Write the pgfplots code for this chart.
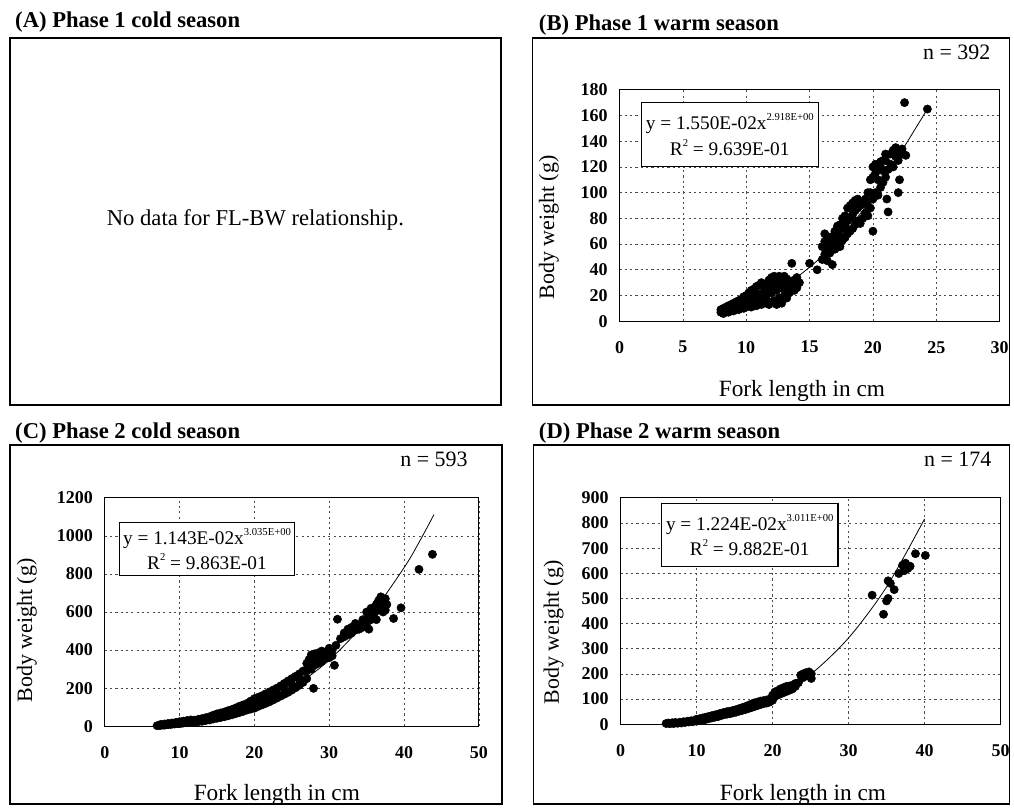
\documentclass[border=0pt]{standalone}
\usepackage{fontspec}
\setmainfont{Liberation Serif}
\usepackage{pgfplots}
\pgfplotsset{compat=1.18}

% common look of the three FL-BW panels
\pgfplotsset{
  fish/.style={
    scale only axis, anchor=south west,
    grid=major,
    major grid style={black!70, line width=0.5pt, dash pattern=on 1.6pt off 2.4pt},
    major tick length=0pt,
    axis line style={line width=0.8pt},
    tick label style={font=\fontsize{13.5}{14}\selectfont\bfseries},
    /pgf/number format/assume math mode=true,
    /pgf/number format/1000 sep={},
    scaled ticks=false,
    xticklabel style={anchor=center, yshift=-19.5pt},
    yticklabel style={anchor=east, xshift=-5.5pt},
    xlabel style={font=\fontsize{17.5}{18}\selectfont},
    ylabel style={font=\fontsize{16.5}{18}\selectfont},
    xlabel={Fork length in cm},
    ylabel={Body weight (g)},
    clip=false,
  },
  dots/.style={only marks, mark=*, mark size=3.1pt, black},
  fit/.style={black, line width=0.6pt, smooth, no markers},
}

\newcommand{\expo}[1]{\raisebox{1.0ex}{\fontsize{8}{8}\selectfont #1}}

\begin{document}
\begin{tikzpicture}
\begin{scope}[x=0.75pt, y=0.75pt]
\path[use as bounding box] (0,0) rectangle (1014,807);

% panel frames
\draw[line width=1.1pt] (10,769) rectangle (502,401);
\draw[line width=1.1pt] (534,769) rectangle (1012,401);
\draw[line width=1.1pt] (10,361) rectangle (503,1);
\draw[line width=1.1pt] (535,361) rectangle (1012,1);

% panel titles
\begin{scope}[every node/.style={anchor=west, inner sep=0pt, font=\fontsize{17}{18}\selectfont\bfseries}]
\node at (15,785) {(A) Phase 1 cold season};
\node at (540,782) {(B) Phase 1 warm season};
\node at (15,373) {(C) Phase 2 cold season};
\node at (540,373) {(D) Phase 2 warm season};
\end{scope}

% (A) no relationship available
\node[font=\fontsize{17}{18}\selectfont] at (256,587) {No data for FL-BW relationship.};
\end{scope}

% (B) Phase 1 warm season
\begin{axis}[fish, at={(465.75pt,363.75pt)}, width=285.75pt, height=174pt,
  xmin=0, xmax=30, xtick={0,5,...,30},
  ymin=0, ymax=180, ytick={0,20,...,180},
  xlabel style={at={(axis description cs:0.48,-0.30)}, anchor=center},
  ylabel style={at={(axis description cs:-0.186,0.405)}, anchor=center}]
\addplot[fit] coordinates {(8,6.69) (10,12.83) (12,21.85) (14,34.26) (16,50.58) (18,71.32) (20,96.99) (22,128.1) (24.3,165)};
\addplot[dots] coordinates {
(8.0,7) (8.0,9) (8.2,6) (8.2,10) (8.4,8) (8.4,11) (8.6,7) (8.6,12) (8.8,9) (8.8,13)
(9.0,8) (9.0,11) (9.0,14) (9.2,10) (9.2,15) (9.4,9) (9.4,12) (9.4,16) (9.6,11) (9.6,14)
(9.6,17) (9.8,10) (9.8,15) (9.8,19) (10.0,11) (10.0,16) (10.0,20) (10.2,12) (10.2,18) (10.2,22)
(10.4,11) (10.4,15) (10.4,24) (10.6,13) (10.6,19) (10.6,25) (10.8,12) (10.8,17) (10.8,27) (11.0,14)
(11.0,21) (11.0,28) (11.2,13) (11.2,19) (11.2,30) (11.4,15) (11.4,23) (11.4,27) (11.6,14) (11.6,20)
(11.6,29) (11.8,13) (11.8,25) (11.8,32) (12.0,15) (12.0,22) (12.0,34) (12.2,16) (12.2,28) (12.2,35)
(12.4,13) (12.4,24) (12.4,33) (12.6,18) (12.6,30) (12.6,35) (12.8,14) (12.8,26) (12.8,34) (13.0,20)
(13.0,29) (13.0,35) (13.2,18) (13.2,25) (13.2,33) (13.4,22) (13.4,31) (13.6,45) (13.6,27) (13.8,24)
(13.8,32) (14.0,26) (14.0,34) (14.2,30) (15.0,45) (15.6,40)
(16.0,48) (16.0,58) (16.2,52) (16.2,62) (16.2,68) (16.4,47) (16.4,57) (16.4,65) (16.6,53) (16.6,61)
(16.8,44) (16.8,58) (16.8,66) (17.0,56) (17.0,64) (17.0,70) (17.2,60) (17.2,68) (17.2,74) (17.4,58)
(17.4,66) (17.4,75) (17.6,63) (17.6,72) (17.6,80) (17.8,65) (17.8,74) (17.8,82) (18.0,68) (18.0,78)
(18.0,88) (18.2,70) (18.2,80) (18.2,90) (18.4,72) (18.4,83) (18.4,92) (18.6,75) (18.6,86) (18.6,94)
(18.8,78) (18.8,88) (18.8,95) (19.0,76) (19.0,90) (19.2,80) (19.2,92) (19.4,84) (19.4,95) (19.6,82)
(19.6,90) (19.6,100) (19.8,88) (19.8,100) (19.8,110) (20.0,70) (20.0,95) (20.0,112) (20.0,120) (20.2,100)
(20.2,115) (20.2,122) (20.4,98) (20.4,110) (20.4,118) (20.6,104) (20.6,120) (20.6,124) (20.8,108) (20.8,117)
(20.8,125) (21.0,112) (21.0,125) (21.0,130) (21.1,95) (21.2,85) (21.2,118) (21.4,122) (21.4,130) (21.6,120)
(21.6,133) (21.8,128) (21.8,135) (22.0,100) (22.0,125) (22.0,132) (22.1,110) (22.3,130) (22.3,134) (22.5,170)
(22.6,129) (24.3,165)};
\end{axis}

% (C) Phase 2 cold season
\begin{axis}[fish, at={(78.75pt,59.25pt)}, width=281.25pt, height=171.75pt,
  xmin=0, xmax=50, xtick={0,10,...,50},
  ymin=0, ymax=1200, ytick={0,200,...,1200},
  xlabel style={at={(axis description cs:0.46,-0.30)}, anchor=center},
  ylabel style={at={(axis description cs:-0.208,0.419)}, anchor=center}]
\addplot[fit] coordinates {(7,4.20) (10,12.39) (15,42.4) (20,101.5) (25,200.0) (30,347.7) (35,555.0) (40,832.7) (42,965.6) (44,1111.7)};
\addplot[dots] coordinates {
(7.0,3) (7.3,4) (7.5,5) (7.5,10) (7.8,6) (8.0,6) (8.0,12) (8.3,8) (8.5,9) (8.5,15)
(8.8,10) (9.0,11) (9.0,17) (9.3,12) (9.5,13) (9.5,20) (9.8,14) (10.0,14) (10.0,24) (10.3,16)
(10.5,17) (10.5,27) (10.8,19) (11.0,19) (11.0,30) (11.3,21) (11.5,22) (11.5,33) (11.8,24) (12.0,20)
(12.0,26) (12.0,32) (12.5,24) (12.5,36) (13.0,26) (13.0,33) (13.0,40) (13.5,30) (13.5,45) (14.0,33)
(14.0,42) (14.0,50) (14.5,38) (14.5,58) (15.0,42) (15.0,55) (15.0,65) (15.5,46) (15.5,70) (16.0,50)
(16.0,63) (16.0,75) (16.5,55) (16.5,82) (17.0,60) (17.0,74) (17.0,88) (17.5,66) (17.5,96) (18.0,72)
(18.0,88) (18.0,105) (18.5,78) (18.5,112) (19.0,85) (19.0,102) (19.0,120) (19.5,90) (19.5,132) (20.0,95)
(20.0,120) (20.0,145) (20.5,104) (20.5,152) (21.0,112) (21.0,136) (21.0,160) (21.5,120) (21.5,170) (22.0,128)
(22.0,154) (22.0,180) (22.5,138) (22.5,190) (23.0,148) (23.0,174) (23.0,200) (23.5,158) (23.5,212) (24.0,168)
(24.0,196) (24.0,225) (24.5,178) (24.5,238) (25.0,190) (25.0,220) (25.0,250) (25.5,202) (25.5,262) (26.0,215)
(26.0,245) (26.0,275) (26.5,230) (26.5,290) (27.0,250) (27.0,290) (27.0,330) (27.3,310) (27.3,350) (27.6,300)
(27.6,340) (27.6,375) (27.9,199) (28.0,320) (28.0,360) (28.0,380) (28.5,330) (28.5,370) (28.5,385) (29.0,340)
(29.0,375) (29.0,395) (29.5,355) (29.5,385) (30.0,360) (30.0,395) (30.0,410) (30.4,370) (30.4,400) (30.7,320)
(30.9,425) (31.1,562) (31.5,460) (32.0,470) (32.0,490) (32.5,480) (32.5,510) (33.0,490) (33.0,520) (33.5,505)
(33.5,540) (34.0,510) (34.0,530) (34.5,520) (34.5,560) (35.0,540) (35.0,600) (35.3,510) (35.3,580) (35.6,560)
(35.6,620) (36.0,590) (36.0,610) (36.3,560) (36.3,640) (36.6,610) (36.6,660) (36.9,680) (36.9,640) (37.2,650)
(37.2,600) (37.5,610) (37.5,670) (37.7,640) (38.6,566) (39.6,622) (42.0,824) (43.8,903)};
\end{axis}

% (D) Phase 2 warm season
\begin{axis}[fish, at={(466.5pt,60.75pt)}, width=285.75pt, height=170.25pt,
  xmin=0, xmax=50, xtick={0,10,...,50},
  ymin=0, ymax=900, ytick={0,100,...,900},
  xlabel style={at={(axis description cs:0.48,-0.313)}, anchor=center},
  ylabel style={at={(axis description cs:-0.176,0.405)}, anchor=center}]
\addplot[fit] coordinates {(6,2.7) (10,12.6) (15,42.6) (20,101.2) (25,198.2) (30,343.1) (35,545.7) (40,816.1)};
\addplot[dots] coordinates {
(6.0,3) (6.3,5) (6.5,2) (6.8,6) (7.0,3) (7.2,7) (7.5,4) (7.8,8) (8.0,5) (8.3,10)
(8.5,7) (8.8,12) (9.0,9) (9.3,14) (9.5,10) (9.8,16) (10.0,12) (10.0,20) (10.4,15) (10.4,22)
(10.8,17) (10.8,25) (11.2,19) (11.2,28) (11.6,22) (11.6,31) (12.0,25) (12.0,34) (12.4,28) (12.4,37)
(12.8,30) (12.8,40) (13.2,34) (13.2,44) (13.6,38) (13.6,47) (14.0,40) (14.0,50) (14.4,42) (14.4,52)
(14.8,45) (14.8,55) (15.2,48) (15.2,58) (15.6,52) (15.6,62) (16.0,55) (16.0,66) (16.4,58) (16.4,70)
(16.8,62) (16.8,75) (17.2,66) (17.2,80) (17.6,70) (17.6,85) (18.0,74) (18.0,88) (18.4,78) (18.4,92)
(18.8,82) (18.8,94) (19.2,84) (19.2,96) (19.6,88) (19.6,100) (20.0,95) (20.0,115) (20.3,110) (20.3,128)
(20.6,115) (20.6,132) (21.0,120) (21.0,140) (21.4,125) (21.4,145) (21.8,130) (21.8,150) (22.2,135) (22.2,152)
(22.6,140) (22.6,155) (23.0,150) (23.0,162) (23.4,165) (23.7,195) (24.0,200) (24.0,185) (24.4,195) (24.4,205)
(24.8,190) (24.8,208) (25.1,182) (25.1,200) (33.1,513) (34.6,437) (35.0,490) (35.2,500) (35.2,570) (35.5,560)
(36.0,535) (36.6,599) (37.1,632) (37.3,610) (37.5,640) (37.8,619) (38.1,628) (38.8,678) (40.1,671)};
\end{axis}

\begin{scope}[x=0.75pt, y=0.75pt]
% sample sizes
\begin{scope}[every node/.style={font=\fontsize{16.5}{18}\selectfont}]
\node at (959,755) {n = 392};
\node at (435,347) {n = 593};
\node at (960,347) {n = 174};
\end{scope}

% fitted power curves
\begin{scope}[every node/.style={draw, line width=0.8pt, fill=white, align=center, inner sep=0pt,
    font=\fontsize{14.5}{19}\selectfont}]
\node[minimum width=132.75pt, minimum height=48pt] at (731.5,672)
  {y = 1.550E-02x\expo{2.918E+00}\\R\expo{2} = 9.639E-01};
\node[minimum width=131.25pt, minimum height=39.75pt] at (207.5,256.5)
  {y = 1.143E-02x\expo{3.035E+00}\\R\expo{2} = 9.863E-01};
\node[minimum width=132.75pt, minimum height=47.25pt] at (751.5,270.5)
  {y = 1.224E-02x\expo{3.011E+00}\\R\expo{2} = 9.882E-01};
\end{scope}
\end{scope}
\end{tikzpicture}
\end{document}
